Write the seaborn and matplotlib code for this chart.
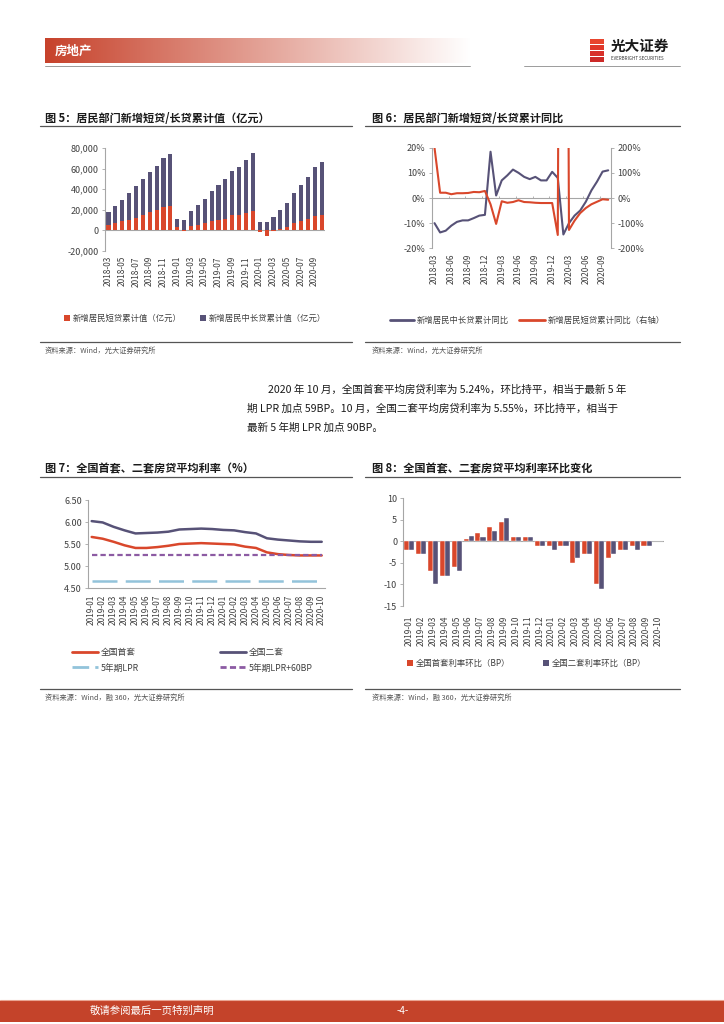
import numpy as np
import pandas as pd
import matplotlib
matplotlib.use('Agg')
import matplotlib.pyplot as plt
import seaborn as sns
from matplotlib.patches import Rectangle, Patch
from matplotlib.lines import Line2D

# ---------------------------------------------------------------
# Données
# ---------------------------------------------------------------
months5 = ['2018-03', '2018-04', '2018-05', '2018-06', '2018-07', '2018-08', '2018-09', '2018-10',
           '2018-11', '2018-12', '2019-01', '2019-02', '2019-03', '2019-04', '2019-05', '2019-06',
           '2019-07', '2019-08', '2019-09', '2019-10', '2019-11', '2019-12', '2020-01', '2020-02',
           '2020-03', '2020-04', '2020-05', '2020-06', '2020-07', '2020-08', '2020-09', '2020-10']
short_cum = [4500, 6500, 8300, 9700, 12000, 15000, 17700, 20000, 22000, 23500,
             2500, -500, 4000, 5000, 7300, 8700, 9700, 10300, 14500, 15000, 17000, 19000,
             -1700, -6000, -1000, 1000, 3300, 7000, 8500, 10500, 14000, 14500]
long_cum = [13200, 16700, 20700, 26800, 30900, 35000, 39300, 42900, 48000, 50700,
            7800, 9400, 14400, 19800, 23300, 29300, 33800, 39100, 42600, 46600, 51700, 55800,
            7700, 8000, 12600, 18400, 22800, 28800, 35000, 41400, 47900, 51600]

# fig 6 : mêmes mois que fig 5
long_yoy = [-10, -13.7, -13, -11, -9.5, -8.9, -8.9, -8, -7, -6.7,
            18.4, 1, 7, 9, 11.3, 10, 8.4, 7.5, 8.4, 7, 7, 10.4,
            8, -14.5, -10, -7, -5, -1.5, 3, 6.5, 10.5, 11]
short_yoy = [200, 21, 21, 15, 19, 19, 20, 24, 23, 28,
             -25, -103, -13, -19, -16, -9, -16, -17, -19, -20, -20, -20,
             -147, 5000, -127, -90, -60, -40, -25, -15, -5, -7]

months7 = ['2019-01', '2019-02', '2019-03', '2019-04', '2019-05', '2019-06', '2019-07', '2019-08',
           '2019-09', '2019-10', '2019-11', '2019-12', '2020-01', '2020-02', '2020-03', '2020-04',
           '2020-05', '2020-06', '2020-07', '2020-08', '2020-09', '2020-10']
rate_first = [5.66, 5.62, 5.55, 5.47, 5.41, 5.41, 5.43, 5.46, 5.50, 5.51, 5.52, 5.51,
              5.50, 5.49, 5.44, 5.41, 5.31, 5.27, 5.25, 5.24, 5.24, 5.24]
rate_second = [6.02, 5.99, 5.89, 5.81, 5.74, 5.75, 5.76, 5.78, 5.83, 5.84, 5.85, 5.84,
               5.82, 5.81, 5.77, 5.74, 5.63, 5.60, 5.58, 5.56, 5.55, 5.55]
lpr5y = [4.65, 4.65, 4.65, 4.65, 4.65, 4.65, 4.65, 4.65, 4.65, 4.65, 4.65,
         4.65, 4.65, 4.65, 4.65, 4.65, 4.65, 4.65, 4.65, 4.65, 4.65, 4.65]
lpr5y_60 = [5.25, 5.25, 5.25, 5.25, 5.25, 5.25, 5.25, 5.25, 5.25, 5.25, 5.25,
            5.25, 5.25, 5.25, 5.25, 5.25, 5.25, 5.25, 5.25, 5.25, 5.25, 5.25]

chg_first = [-2, -3, -7, -8, -6, 0.5, 2, 3.4, 4.4, 1, 1, -1, -1, -1, -5, -3, -10, -4, -2, -1, -1, 0]
chg_second = [-2, -3, -10, -8, -7, 1.3, 1, 2.3, 5.4, 1, 1, -1, -2, -1, -4, -3, -11, -3, -2, -2, -1, 0]

RED = '#D9472B'
PURPLE = '#575277'
LBLUE = '#92C3DA'
VIOLET = '#8C5BA3'
GRID = '#A6A6A6'
TXT = '#404040'
FOOT = '#C4432A'

sns.set_theme(style='white')
plt.rcParams['font.family'] = ['Noto Sans CJK SC', 'DejaVu Sans']
plt.rcParams['axes.unicode_minus'] = False

W, H = 724, 1024
fig = plt.figure(figsize=(W / 100, H / 100), dpi=100)


def box(x0, y0, x1, y1):
    return fig.add_axes([x0 / W, 1 - y1 / H, (x1 - x0) / W, (y1 - y0) / H])


def ftext(x, y, s, **kw):
    kw.setdefault('va', 'center')
    fig.text(x / W, 1 - y / H, s, **kw)


def hline(x0, x1, y, color, lw):
    fig.add_artist(Line2D([x0 / W, x1 / W], [1 - y / H, 1 - y / H], color=color, lw=lw))


def style(ax, left=True):
    for s in ['top', 'right', 'bottom', 'left']:
        ax.spines[s].set_visible(False)
    if left:
        ax.spines['left'].set_visible(True)
        ax.spines['left'].set_color(GRID)
        ax.spines['left'].set_linewidth(0.8)
    ax.tick_params(axis='y', length=2.5, width=0.6, color=GRID, labelsize=6.5,
                   labelcolor=TXT, pad=2, left=True)
    ax.tick_params(axis='x', length=0, labelsize=6, labelcolor=TXT, rotation=90, pad=4)
    ax.set_facecolor('none')
    ax.set_xlabel('')
    ax.set_ylabel('')


def legend(items, x, y, fs=6, hl=0.7):
    leg = fig.legend(items[0], items[1], loc='center left', bbox_to_anchor=(x / W, 1 - y / H),
                     frameon=False, fontsize=fs, handlelength=hl, handleheight=0.7,
                     handletextpad=0.3, borderpad=0, borderaxespad=0, labelcolor=TXT)
    return leg


# ---------------------------------------------------------------
# En-tête / pied de page
# ---------------------------------------------------------------
axh = box(45, 38, 470, 63)
g = np.linspace(0, 1, 256)
c0 = np.array([0.78, 0.26, 0.17])
img = c0[None, :] * (1 - g[:, None]) + np.ones(3)[None, :] * g[:, None]
axh.imshow(img[None, :, :], aspect='auto', extent=[0, 1, 0, 1])
axh.axis('off')
ftext(55, 51, '房地产', fontsize=9, fontweight='bold', color='white')
hline(45, 470, 65.5, '#8C8C8C', 0.6)
hline(524, 680, 65.5, '#8C8C8C', 0.6)

for i, c in enumerate(['#E8452E', '#E0382A', '#D8302A', '#CC2A28']):
    fig.add_artist(Rectangle((590 / W, 1 - (44 + i * 6) / H), 14 / W, 5.2 / H,
                             transform=fig.transFigure, color=c, lw=0))
ftext(611, 46, '光大证券', fontsize=10.5, fontweight='bold', color='#1a1a1a')
ftext(611, 58.5, 'EVERBRIGHT SECURITIES', fontsize=3.2, color='#333333')

fig.add_artist(Rectangle((0, 1 - 1022 / H), 1, 21 / H, transform=fig.transFigure,
                         color=FOOT, lw=0))
hline(0, 724, 1000, '#E9A593', 0.8)
ftext(90, 1011, '敬请参阅最后一页特别声明', fontsize=7.5, color='white')
ftext(403, 1011, '-4-', fontsize=7, color='white', ha='center')

# ---------------------------------------------------------------
# Titres, filets, sources
# ---------------------------------------------------------------
ftext(45, 118, '图 5：居民部门新增短贷/长贷累计值（亿元）', fontsize=8, fontweight='bold', color='#1a1a1a')
ftext(372, 118, '图 6：居民部门新增短贷/长贷累计同比', fontsize=8, fontweight='bold', color='#1a1a1a')
ftext(45, 469, '图 7：全国首套、二套房贷平均利率（%）', fontsize=8, fontweight='bold', color='#1a1a1a')
ftext(372, 469, '图 8：全国首套、二套房贷平均利率环比变化', fontsize=8, fontweight='bold', color='#1a1a1a')
for y in [125.5, 476.5]:
    hline(40, 352, y, '#555555', 0.9)
    hline(365, 680, y, '#555555', 0.9)
for y in [342, 689]:
    hline(40, 352, y, '#555555', 0.9)
    hline(365, 680, y, '#555555', 0.9)
ftext(45, 351, '资料来源：Wind，光大证券研究所', fontsize=5.2, color='#555555')
ftext(372, 351, '资料来源：Wind，光大证券研究所', fontsize=5.2, color='#555555')
ftext(45, 698, '资料来源：Wind，融 360，光大证券研究所', fontsize=5.2, color='#555555')
ftext(372, 698, '资料来源：Wind，融 360，光大证券研究所', fontsize=5.2, color='#555555')

ftext(268, 390, '2020 年 10 月，全国首套平均房贷利率为 5.24%，环比持平，相当于最新 5 年',
      fontsize=7.6, color='#1a1a1a')
ftext(247, 409, '期 LPR 加点 59BP。10 月，全国二套平均房贷利率为 5.55%，环比持平，相当于',
      fontsize=7.6, color='#1a1a1a')
ftext(247, 428, '最新 5 年期 LPR 加点 90BP。', fontsize=7.6, color='#1a1a1a')

# ---------------------------------------------------------------
# Fig 5 - barres empilées
# ---------------------------------------------------------------
ax5 = box(105, 148, 325, 250.5)
x5 = np.arange(len(months5))
ax5.axhline(0, color=GRID, lw=0.8, zorder=0)
ax5.bar(x5, short_cum, width=0.6, color=RED, lw=0, zorder=2)
ax5.bar(x5, long_cum, width=0.6, bottom=np.clip(short_cum, 0, None), color=PURPLE, lw=0, zorder=2)
ax5.set_xlim(-0.5, len(months5) - 0.5)
ax5.set_ylim(-20000, 80000)
yt5 = list(range(-20000, 80001, 20000))
ax5.set_yticks(yt5)
ax5.set_yticklabels([f'{v:,}' for v in yt5])
ax5.set_xticks(x5[::2])
ax5.set_xticklabels(months5[::2])
style(ax5)
legend(([Patch(color=RED, lw=0)], ['新增居民短贷累计值（亿元）']), 64, 318)
legend(([Patch(color=PURPLE, lw=0)], ['新增居民中长贷累计值（亿元）']), 200, 318)

# ---------------------------------------------------------------
# Fig 6 - courbes double axe
# ---------------------------------------------------------------
ax6 = box(431.7, 147.7, 611, 248.3)
x6 = np.arange(len(months5))
ax6.axhline(0, color=GRID, lw=0.8, zorder=0)
ax6.vlines(np.arange(-0.5, len(months5), 3), 0, 0.8, color=GRID, lw=0.6)
sns.lineplot(x=x6, y=long_yoy, ax=ax6, color=PURPLE, lw=1.5)
ax6.set_xlim(-0.5, len(months5) - 0.5)
ax6.set_ylim(-20, 20)
ax6.set_yticks([-20, -10, 0, 10, 20])
ax6.set_yticklabels([f'{v}%' for v in [-20, -10, 0, 10, 20]])
ax6.set_xticks(x6[::3])
ax6.set_xticklabels(months5[::3])
style(ax6)

ax6b = ax6.twinx()
sns.lineplot(x=x6, y=short_yoy, ax=ax6b, color=RED, lw=1.5)
ax6b.set_ylim(-200, 200)
ax6b.set_yticks([-200, -100, 0, 100, 200])
ax6b.set_yticklabels([f'{v}%' for v in [-200, -100, 0, 100, 200]])
for s in ['top', 'left', 'bottom']:
    ax6b.spines[s].set_visible(False)
ax6b.spines['right'].set_color(GRID)
ax6b.spines['right'].set_linewidth(0.8)
ax6b.tick_params(axis='y', length=2.5, width=0.6, color=GRID, labelsize=6.5,
                 labelcolor=TXT, pad=2, right=True)
ax6b.set_ylabel('')
ax6b.set_facecolor('none')
legend(([Line2D([], [], color=PURPLE, lw=2)], ['新增居民中长贷累计同比']), 390, 320, hl=2.9)
legend(([Line2D([], [], color=RED, lw=2)], ['新增居民短贷累计同比（右轴）']), 519, 320, hl=3.1)

# ---------------------------------------------------------------
# Fig 7 - taux moyens
# ---------------------------------------------------------------
ax7 = box(88.3, 500, 325, 588)
x7 = np.arange(len(months7))
sns.lineplot(x=x7, y=lpr5y, ax=ax7, color=LBLUE, lw=1.8)
ax7.lines[-1].set_dashes([10, 3.3])
sns.lineplot(x=x7, y=rate_second, ax=ax7, color=PURPLE, lw=1.8)
sns.lineplot(x=x7, y=rate_first, ax=ax7, color=RED, lw=1.8)
sns.lineplot(x=x7, y=lpr5y_60, ax=ax7, color=VIOLET, lw=1.6)
ax7.lines[-1].set_dashes([2.4, 1.4])
ax7.set_xlim(-0.31, len(months7) - 0.7)
ax7.set_ylim(4.5, 6.5)
ax7.set_yticks([4.5, 5.0, 5.5, 6.0, 6.5])
ax7.set_yticklabels(['4.50', '5.00', '5.50', '6.00', '6.50'])
ax7.set_xticks(x7)
ax7.set_xticklabels(months7)
style(ax7)
ax7.spines['bottom'].set_visible(True)
ax7.spines['bottom'].set_color(GRID)
ax7.spines['bottom'].set_linewidth(0.8)
ax7.tick_params(axis='x', pad=5)

l1 = Line2D([], [], color=RED, lw=2)
l2 = Line2D([], [], color=PURPLE, lw=2)
l3 = Line2D([], [], color=LBLUE, lw=2, dashes=[6, 2.2])
l4 = Line2D([], [], color=VIOLET, lw=2, dashes=[2.2, 1.2])
legend(([l1], ['全国首套']), 72, 653, fs=6.3, hl=3.0)
legend(([l2], ['全国二套']), 220, 653, fs=6.3, hl=3.0)
legend(([l3], ['5年期LPR']), 72, 668, fs=6.3, hl=3.0)
legend(([l4], ['5年期LPR+60BP']), 220, 668, fs=6.3, hl=3.0)

# ---------------------------------------------------------------
# Fig 8 - variations mensuelles (BP)
# ---------------------------------------------------------------
ax8 = box(403.4, 498, 664.3, 606)
df8 = pd.DataFrame({
    'month': months7 + months7,
    'value': chg_first + chg_second,
    'serie': ['首套'] * len(months7) + ['二套'] * len(months7),
})
ax8.axhline(0, color=GRID, lw=0.8, zorder=0)
sns.barplot(data=df8, x='month', y='value', hue='serie', palette=[RED, PURPLE],
            width=0.86, ax=ax8, legend=False, edgecolor='white', linewidth=0.3,
            saturation=1, zorder=2)
ax8.set_xlim(-0.5, len(months7) - 0.5)
ax8.set_ylim(-15, 10)
ax8.set_yticks([-15, -10, -5, 0, 5, 10])
ax8.set_yticklabels(['-15', '-10', '-5', '0', '5', '10'])
style(ax8)
ax8.tick_params(axis='x', pad=7)
legend(([Patch(color=RED, lw=0)], ['全国首套利率环比（BP）']), 407, 663)
legend(([Patch(color=PURPLE, lw=0)], ['全国二套利率环比（BP）']), 543, 663)

fig.savefig('out.png', dpi=100, facecolor='white')
